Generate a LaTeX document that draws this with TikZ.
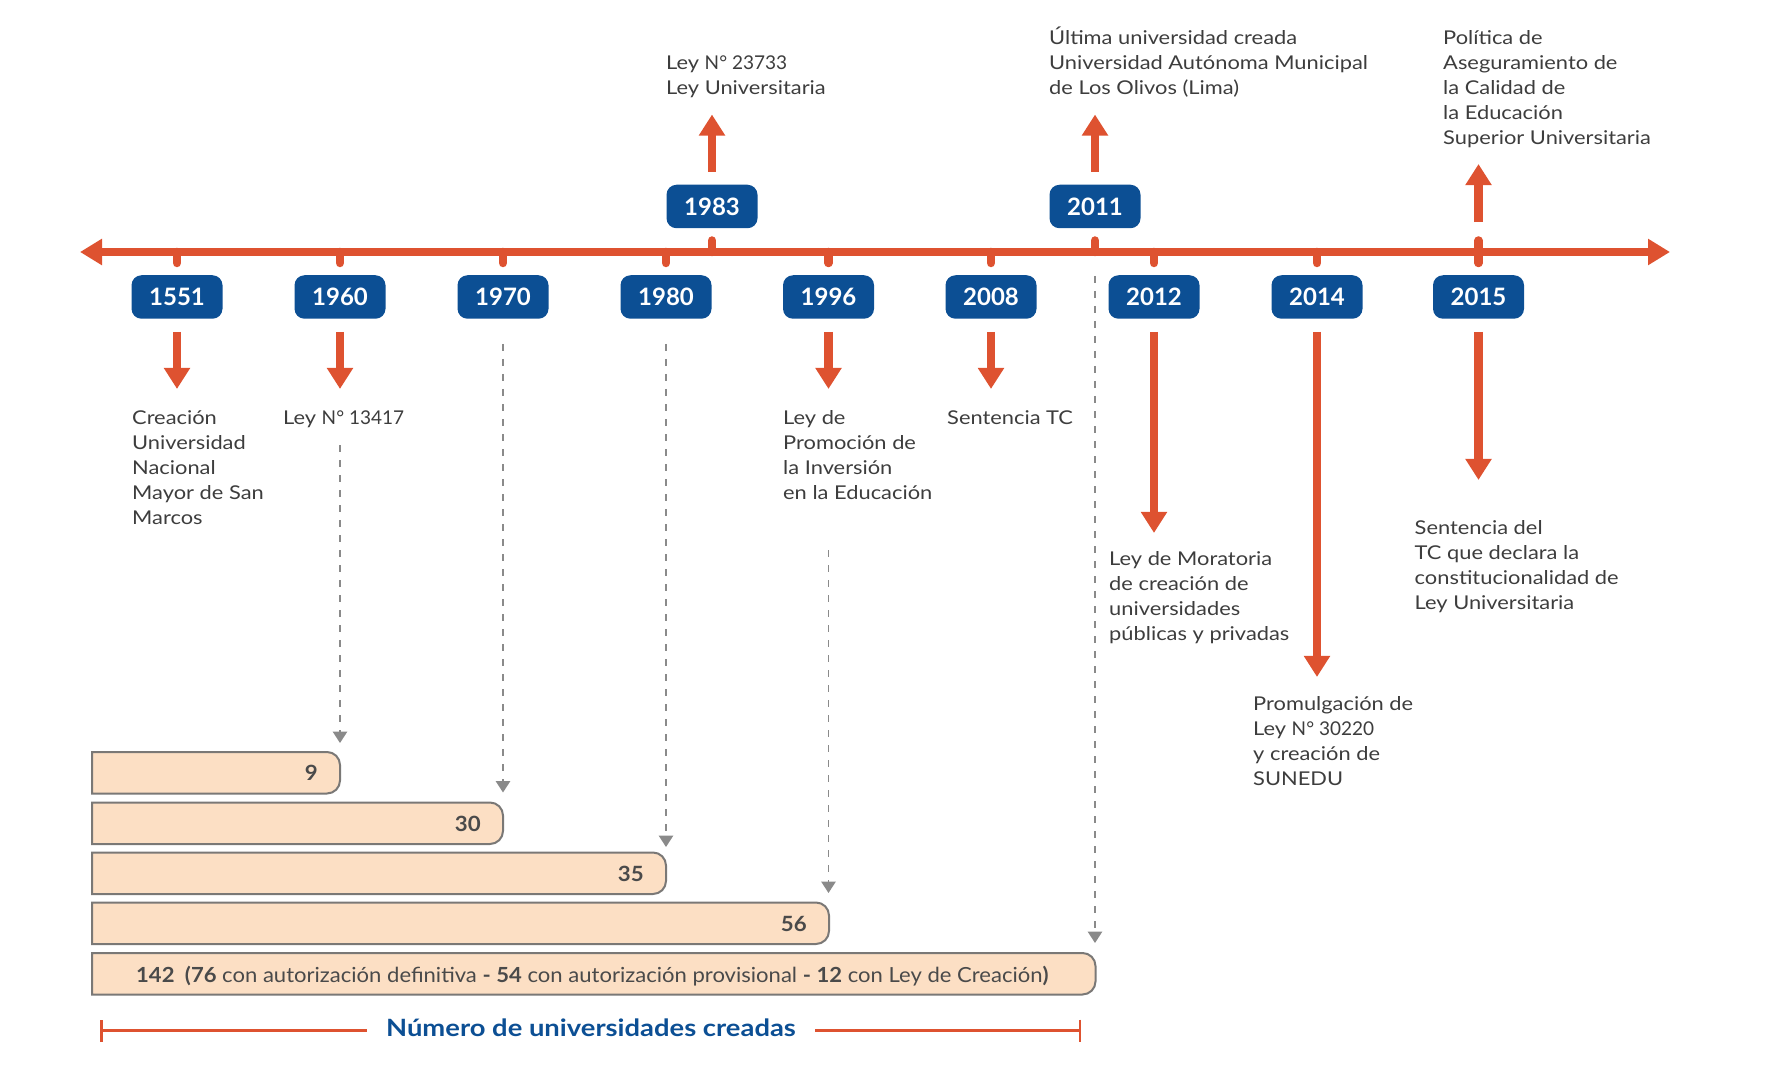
\documentclass[tikz,border=0pt]{standalone}
\usepackage{fontspec}
\setmainfont{Lato}[FakeStretch=1.15]
\newfontfamily\yearfont{Lato}
\newfontfamily\plainfont{Lato}
\newfontfamily\barfont{Lato}[FakeStretch=1.06]
\usetikzlibrary{arrows.meta}
\definecolor{ored}{HTML}{DE5230}
\definecolor{yblue}{HTML}{0C4F94}
\definecolor{txt}{HTML}{3D3D3D}
\definecolor{peach}{HTML}{FCDFC4}
\definecolor{dgray}{HTML}{8A8A8A}
\definecolor{bgray}{HTML}{7A7876}
\definecolor{ntxt}{HTML}{4A4A4A}
\begin{document}
\begin{tikzpicture}[x=1pt,y=-1pt,
 yearbox/.style={fill=yblue,rounded corners=10pt,minimum width=91pt,minimum height=43.5pt,inner sep=0pt,text=white,font=\yearfont\fontsize{24}{24}\selectfont\bfseries},
 bigarrow/.style={draw=ored,line width=8.5pt,-{Triangle[width=25pt,length=21pt]}},
 tickmark/.style={draw=ored,line width=8.5pt,line cap=round},
 evtext/.style={anchor=north west,inner sep=0pt,align=left,text=txt,font=\fontsize{19}{25}\selectfont},
 dashline/.style={draw=dgray,line width=1.5pt,dash pattern=on 7pt off 8pt,-{Triangle[width=14.5pt,length=11.5pt]}},
 barshape/.style={fill=peach,draw=bgray,line width=2pt},
 barnum/.style={anchor=base east,inner sep=0pt,text=ntxt,font=\barfont\fontsize{21}{24}\selectfont\bfseries},
 rulerline/.style={draw=ored,line width=2.5pt},
]
\useasboundingbox (0,0) rectangle (1792,1075);

% axis
\coordinate (axL) at (80,252);
\coordinate (axR) at (1670,252);
\draw[draw=ored,line width=8pt,{Triangle[width=25pt,length=22pt]}-{Triangle[width=25pt,length=22pt]}] (axL) -- (axR);

% ticks
\foreach \x in {177,340,503,666,828.5,991,1154,1317,1478.5}
  \draw[tickmark] (\x,252) -- (\x,263);
\foreach \x in {712,1095,1478.5}
  \draw[tickmark] (\x,252) -- (\x,240.5);

% year boxes
\node[yearbox] (y1551) at (177,297) {1551};
\node[yearbox] (y1960) at (340,297) {1960};
\node[yearbox] (y1970) at (503,297) {1970};
\node[yearbox] (y1980) at (666,297) {1980};
\node[yearbox] (y1996) at (828.5,297) {1996};
\node[yearbox] (y2008) at (991,297) {2008};
\node[yearbox] (y2012) at (1154,297) {2012};
\node[yearbox] (y2014) at (1317,297) {2014};
\node[yearbox] (y2015) at (1478.5,297) {2015};
\node[yearbox] (y1983) at (712,206.5) {1983};
\node[yearbox] (y2011) at (1095,206.5) {2011};

% event texts
\node[evtext] (t1983) at (666,49) {\rule{0pt}{20pt}Ley {\plainfont N° 23733}\\Ley Universitaria};
\node[evtext] (t2011) at (1049,24) {\rule{0pt}{20pt}Última universidad creada\\Universidad Autónoma Municipal\\de Los Olivos (Lima)};
\node[evtext] (t2015a) at (1443,24) {\rule{0pt}{20pt}Política de\\Aseguramiento de\\la Calidad de\\la Educación\\Superior Universitaria};
\node[evtext] (t1551) at (132,404) {\rule{0pt}{20pt}Creación\\Universidad\\Nacional\\Mayor de San\\Marcos};
\node[evtext] (t1960) at (283,404) {\rule{0pt}{20pt}Ley {\plainfont N° 13417}};
\node[evtext] (t1996) at (783,404) {\rule{0pt}{20pt}Ley de\\Promoción de\\la Inversión\\en la Educación};
\node[evtext] (t2008) at (947,404) {\rule{0pt}{20pt}Sentencia TC};
\node[evtext] (t2012) at (1109,545.5) {\rule{0pt}{20pt}Ley de Moratoria\\de creación de\\universidades\\públicas y privadas};
\node[evtext] (t2014) at (1253,690) {\rule{0pt}{20pt}Promulgación de\\Ley {\plainfont N° 30220}\\y creación de\\SUNEDU};
\node[evtext] (t2015b) at (1414.5,514) {\rule{0pt}{20pt}Sentencia del\\TC que declara la\\constitucionalidad de\\Ley Universitaria};

% event arrows
\draw[bigarrow] ([yshift=-13pt]y1551.south) -- ++(0,57);
\draw[bigarrow] ([yshift=-13pt]y1960.south) -- ++(0,57);
\draw[bigarrow] ([yshift=-13pt]y1996.south) -- ++(0,57);
\draw[bigarrow] ([yshift=-13pt]y2008.south) -- ++(0,57);
\draw[bigarrow] ([yshift=-13pt]y2012.south) -- ++(0,201);
\draw[bigarrow] ([yshift=-13pt]y2014.south) -- ++(0,345);
\draw[bigarrow] ([yshift=-13pt]y2015.south) -- ++(0,148);
\draw[bigarrow] ([yshift=13pt]y1983.north) -- ++(0,-57);
\draw[bigarrow] ([yshift=13pt]y2011.north) -- ++(0,-57);
\draw[bigarrow] ([yshift=53pt]y2015.north) -- ++(0,-58);

% bars
\foreach \R/\T in {340/752,503/802.5,666/852.5,829/902.5,1095.5/953}
  \filldraw[barshape] (92,\T) -- (\R-13,\T) arc[start angle=90,end angle=0,radius=13pt]
     -- (\R,\T+28.5) arc[start angle=0,end angle=-90,radius=13pt] -- (92,\T+41.5) -- cycle;

\node[barnum] (n9) at (318,780.5) {9};
\node[barnum] (n30) at (481,831) {30};
\node[barnum] (n35) at (644,881) {35};
\node[barnum] (n56) at (807,931) {56};
\node[anchor=base west,inner sep=0pt,text=ntxt,font=\barfont\fontsize{20.8}{24}\selectfont] (n142) at (136,982)
  {\textbf{142}\hspace{0.5em}\textbf{(76} con autorización definitiva \textbf{-} \textbf{54} con autorización provisional \textbf{-} \textbf{12} con Ley de Creación\textbf{)}};

% dashed connectors
\coordinate (d1960) at (340,445);   \coordinate (e1960) at (340,743);
\coordinate (d1970) at (503,344);   \coordinate (e1970) at (503,792.5);
\coordinate (d1980) at (666,344);   \coordinate (e1980) at (666,847);
\coordinate (d1996) at (828.5,550); \coordinate (e1996) at (828.5,893);
\coordinate (d2011) at (1095,276);  \coordinate (e2011) at (1095,943);
\draw[dashline] (d1960) -- (e1960);
\draw[dashline] (d1970) -- (e1970);
\draw[dashline] (d1980) -- (e1980);
\draw[dashline] (d1996) -- (e1996);
\draw[dashline] (d2011) -- (e2011);

% bottom ruler
\node[anchor=base,inner xsep=19pt,inner ysep=0pt,text=yblue,font=\fontsize{23.8}{26}\selectfont\bfseries] (lbl) at (591,1036.5) {Número de universidades creadas};
\coordinate (rl) at (100,1030.5);
\coordinate (rr) at (1081,1030.5);
\draw[rulerline,{Bar[width=22pt]}-] (rl) -- (rl -| lbl.west);
\draw[rulerline,-{Bar[width=22pt]}] (rr -| lbl.east) -- (rr);
\end{tikzpicture}
\end{document}
